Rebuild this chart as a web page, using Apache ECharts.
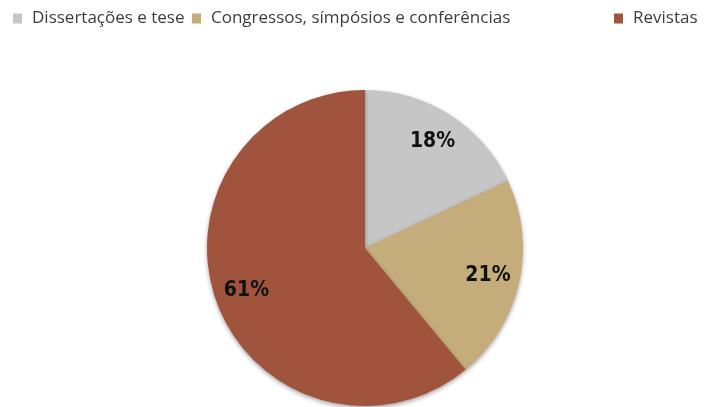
<!DOCTYPE html>
<html>
<head>
<meta charset="utf-8">
<script src="https://cdn.jsdelivr.net/npm/echarts@6/dist/echarts.min.js"></script>
<style>
html,body{margin:0;padding:0;background:#fff;}
#chart{width:716px;height:407px;}
</style>
</head>
<body>
<div id="chart"></div>
<script>
var categories = ['Dissertações e tese', 'Congressos, símpósios e conferências', 'Revistas'];
var values = [18, 21, 61];
var colors = ['#c6c6c6', '#c4ad7a', '#a0543d'];
// where each legend entry starts, the original spaces its text out
var legendLefts = [8, 187, 609];

var chart = echarts.init(document.getElementById('chart'));

var pieData = categories.map(function (name, i) {
    return {value: values[i], name: name, itemStyle: {color: colors[i]}};
});
var labelData = categories.map(function (name, i) {
    return {value: values[i], name: name};
});
var legends = categories.map(function (name, i) {
    return {
        top: 5,
        left: legendLefts[i],
        itemWidth: 9,
        itemHeight: 10,
        icon: 'rect',
        data: [name],
        textStyle: {
            color: '#3c3c3c',
            fontSize: 17,
            padding: [0, 0, 0, 5],
            fontFamily: 'Open Sans'
        }
    };
});

option = {
    animation: false,
    legend: legends,
    series: [
        {
            type: 'pie',
            center: [365, 248],
            radius: [0, 158],
            startAngle: 90,
            clockwise: true,
            itemStyle: {
                shadowBlur: 4,
                shadowOffsetY: 2,
                shadowColor: 'rgba(0,0,0,0.35)'
            },
            label: {show: false},
            labelLine: {show: false},
            data: pieData
        },
        {
            type: 'pie',
            silent: true,
            center: [365, 248],
            radius: [88, 158],
            startAngle: 90,
            clockwise: true,
            itemStyle: {color: 'rgba(0,0,0,0)'},
            label: {
                show: true,
                position: 'inside',
                formatter: '{c}%',
                color: '#111',
                fontSize: 21,
                fontWeight: 'bold',
                fontFamily: 'DejaVu Sans Condensed'
            },
            labelLine: {show: false},
            data: labelData
        }
    ]
};
chart.setOption(option);
</script>
</body>
</html>
